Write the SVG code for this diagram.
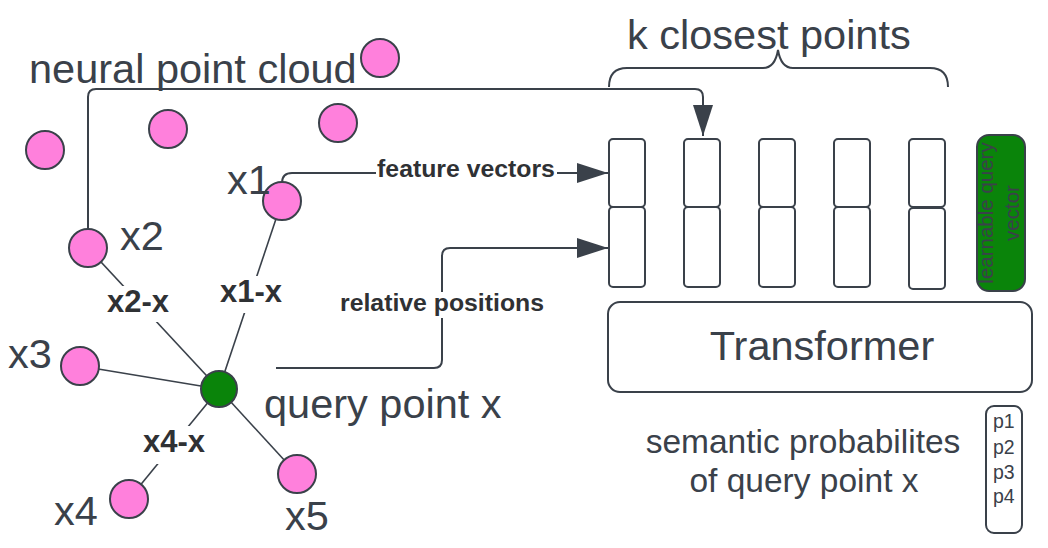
<svg xmlns="http://www.w3.org/2000/svg" width="1048" height="548" viewBox="0 0 1048 548">
<defs>
<marker id="arr" markerWidth="31" markerHeight="20" refX="31" refY="10" orient="auto" markerUnits="userSpaceOnUse">
<path d="M0,0 L31,10 L0,20 Z" fill="#3a414a"/>
</marker>
</defs>
<style>
text{font-family:"Liberation Sans",Arial,sans-serif;fill:#3a414a}
.big{font-size:41.5px}
.bl{font-size:31px;font-weight:bold;fill:#2f3134}
.sl{font-size:24.8px;font-weight:bold;fill:#2f3134}
.pt{fill:#ff80dc;stroke:#3a414a;stroke-width:2}
.q{fill:#0a840a;stroke:#3a414a;stroke-width:2}
.ln{fill:none;stroke:#3a414a;stroke-width:2}
.edge{fill:none;stroke:#3a414a;stroke-width:1.6}
.box{fill:#fff;stroke:#3a414a;stroke-width:2}
.bg{fill:#fff}
</style>
<rect width="1048" height="548" fill="#fff"/>

<g id="connectors">
<line class="edge" x1="282" y1="201" x2="219" y2="389"/>
<line class="edge" x1="88" y1="248" x2="219" y2="389"/>
<line class="edge" x1="80" y1="366" x2="219" y2="389"/>
<line class="edge" x1="129" y1="499" x2="219" y2="389"/>
<line class="edge" x1="297" y1="474" x2="219" y2="389"/>
<path class="ln" d="M88,229 L88,97 Q88,89 96,89 L695,89 Q703,89 703,97 L703,136" marker-end="url(#arr)"/>
<path class="ln" d="M282,183 Q282,173 292,173 L608,173" marker-end="url(#arr)"/>
<path class="ln" d="M276,368 L434,368 Q442,368 442,360 L442,256 Q442,248 450,248 L608,248" marker-end="url(#arr)"/>
<rect class="bg" x="215" y="276" width="72" height="37"/>
<text class="bl" x="251" y="302" text-anchor="middle">x1-x</text>
<rect class="bg" x="104" y="286" width="68" height="36"/>
<text class="bl" x="138" y="312" text-anchor="middle">x2-x</text>
<rect class="bg" x="140" y="426" width="68" height="38"/>
<text class="bl" x="174" y="452" text-anchor="middle">x4-x</text>
<rect class="bg" x="376" y="160" width="181" height="24"/>
<text class="sl" x="466" y="177" text-anchor="middle">feature vectors</text>
<rect class="bg" x="338" y="292" width="218" height="26"/>
<text class="sl" x="442" y="311" text-anchor="middle">relative positions</text>
</g>

<g id="brace">
<path class="ln" d="M609,87 C609,75 615,68 627,68 L763,68 C771,68 776,62 778,50 C780,62 785,68 793,68 L930,68 C942,68 948,75 948,87"/>
<text class="big" x="627" y="49">k closest points</text>
</g>

<g id="cloud-label"><text class="big" x="29" y="83">neural point cloud</text></g>

<g id="p-top"><circle class="pt" cx="380" cy="58" r="19"/></g>
<g id="p-a"><circle class="pt" cx="45" cy="150" r="19"/></g>
<g id="p-b"><circle class="pt" cx="168" cy="129" r="19"/></g>
<g id="p-c"><circle class="pt" cx="338" cy="123" r="19"/></g>
<g id="x1"><circle class="pt" cx="282" cy="201" r="19"/><text class="big" x="227" y="194">x1</text></g>
<g id="x2"><circle class="pt" cx="88" cy="248" r="19"/><text class="big" x="120" y="250">x2</text></g>
<g id="x3"><circle class="pt" cx="80" cy="366" r="19"/><text class="big" x="8" y="368">x3</text></g>
<g id="x4"><circle class="pt" cx="129" cy="499" r="19"/><text class="big" x="54" y="525">x4</text></g>
<g id="x5"><circle class="pt" cx="297" cy="474" r="19"/><text class="big" x="285" y="530">x5</text></g>
<g id="query"><circle class="q" cx="219" cy="389" r="18"/><text class="big" x="264" y="418">query point x</text></g>

<g id="col1"><rect class="box" x="609" y="139" width="36" height="68" rx="4"/><rect class="box" x="609" y="207" width="36" height="80" rx="4"/></g>
<g id="col2"><rect class="box" x="684" y="139" width="36" height="68" rx="4"/><rect class="box" x="684" y="207" width="36" height="80" rx="4"/></g>
<g id="col3"><rect class="box" x="759" y="139" width="36" height="68" rx="4"/><rect class="box" x="759" y="207" width="36" height="80" rx="4"/></g>
<g id="col4"><rect class="box" x="834" y="139" width="36" height="68" rx="4"/><rect class="box" x="834" y="207" width="36" height="80" rx="4"/></g>
<g id="col5"><rect class="box" x="909" y="139" width="36" height="68" rx="4"/><rect class="box" x="909" y="208" width="36" height="81" rx="4"/></g>

<g id="query-vector">
<rect x="977" y="135" width="48" height="156" rx="12" fill="#0a840a" stroke="#3a414a" stroke-width="2"/>
<text transform="rotate(-90)" x="-213" y="993" text-anchor="middle" style="font-size:20.5px">learnable query</text>
<text transform="rotate(-90)" x="-213" y="1019" text-anchor="middle" style="font-size:20.5px">vector</text>
</g>

<g id="transformer">
<rect class="box" x="608" y="302" width="424" height="90" rx="12"/>
<text class="big" x="822" y="360" text-anchor="middle">Transformer</text>
</g>

<g id="semantic">
<text x="803" y="453" text-anchor="middle" style="font-size:33.5px">semantic probabilites</text>
<text x="804" y="492" text-anchor="middle" style="font-size:33.5px">of query point x</text>
</g>

<g id="probs">
<rect class="box" x="986" y="406" width="36" height="127" rx="8"/>
<text x="993" y="428" style="font-size:19.5px">p1</text>
<text x="993" y="454" style="font-size:19.5px">p2</text>
<text x="993" y="479" style="font-size:19.5px">p3</text>
<text x="993" y="503" style="font-size:19.5px">p4</text>
</g>
</svg>
